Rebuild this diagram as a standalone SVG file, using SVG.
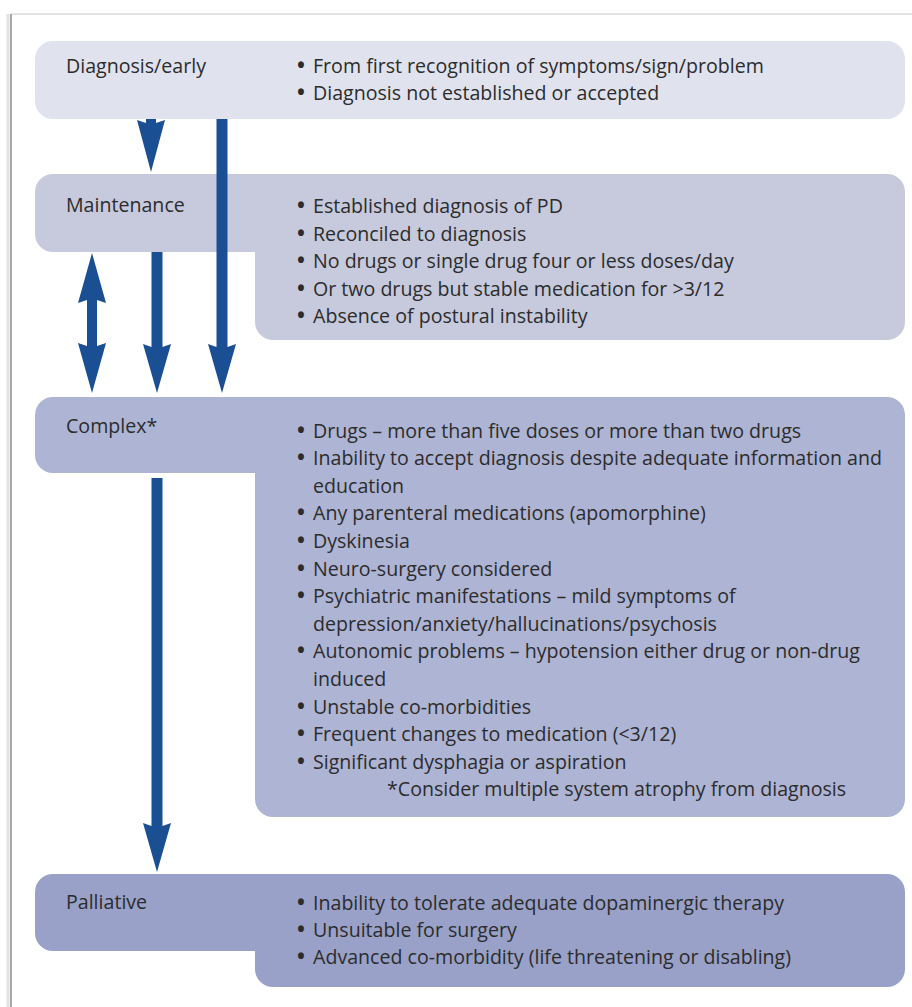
<svg xmlns="http://www.w3.org/2000/svg" width="912" height="1007" viewBox="0 0 912 1007">
<style>
text{font-family:"Open Sans","Noto Sans","Liberation Sans",sans-serif;font-size:19.6px;fill:#2c2c2c}
.bu{font-weight:700;font-size:21px}
.b1{fill:#e0e3ee}.b2{fill:#c6cadc}.b3{fill:#aeb4d4}.b4{fill:#99a1c8}
.arr{fill:#1b4f93}
</style>
<rect width="912" height="1007" fill="#ffffff"/>
<g id="frame">
<line x1="11" y1="14" x2="912" y2="14" stroke="#e4e4e4" stroke-width="2"/>
<line x1="8" y1="14" x2="8" y2="1007" stroke="#e2e2e2" stroke-width="3"/>
<line x1="11" y1="14" x2="11" y2="1007" stroke="#a8a8a8" stroke-width="2"/>
</g>
<g id="diagnosis">
<rect class="b1" x="35" y="41" width="870" height="78" rx="18"/>
<text x="66" y="73">Diagnosis/early</text>
<text><tspan class="bu" x="297" y="73">•</tspan><tspan x="313" y="73">From first recognition of symptoms/sign/problem</tspan><tspan class="bu" x="297" y="100">•</tspan><tspan x="313" y="100">Diagnosis not established or accepted</tspan></text>
</g>
<g id="maintenance">
<path class="b2" d="M53,174 H887 A18,18 0 0 1 905,192 V322 A18,18 0 0 1 887,340 H273 A18,18 0 0 1 255,322 V252 H53 A18,18 0 0 1 35,234 V192 A18,18 0 0 1 53,174 Z"/>
<text x="66" y="212">Maintenance</text>
<text><tspan class="bu" x="297" y="213">•</tspan><tspan x="313" y="213">Established diagnosis of PD</tspan><tspan class="bu" x="297" y="241">•</tspan><tspan x="313" y="241">Reconciled to diagnosis</tspan><tspan class="bu" x="297" y="268">•</tspan><tspan x="313" y="268">No drugs or single drug four or less doses/day</tspan><tspan class="bu" x="297" y="296">•</tspan><tspan x="313" y="296">Or two drugs but stable medication for &gt;3/12</tspan><tspan class="bu" x="297" y="323">•</tspan><tspan x="313" y="323">Absence of postural instability</tspan></text>
</g>
<g id="complex">
<path class="b3" d="M53,397 H887 A18,18 0 0 1 905,415 V799 A18,18 0 0 1 887,817 H273 A18,18 0 0 1 255,799 V473 H53 A18,18 0 0 1 35,455 V415 A18,18 0 0 1 53,397 Z"/>
<text x="66" y="433">Complex*</text>
<text><tspan class="bu" x="297" y="437.6">•</tspan><tspan x="313" y="437.6">Drugs – more than five doses or more than two drugs</tspan><tspan class="bu" x="297" y="465.2">•</tspan><tspan x="313" y="465.2">Inability to accept diagnosis despite adequate information and</tspan><tspan x="313" y="492.8">education</tspan><tspan class="bu" x="297" y="520.4">•</tspan><tspan x="313" y="520.4">Any parenteral medications (apomorphine)</tspan><tspan class="bu" x="297" y="548">•</tspan><tspan x="313" y="548">Dyskinesia</tspan><tspan class="bu" x="297" y="575.6">•</tspan><tspan x="313" y="575.6">Neuro-surgery considered</tspan><tspan class="bu" x="297" y="603.2">•</tspan><tspan x="313" y="603.2">Psychiatric manifestations – mild symptoms of</tspan><tspan x="313" y="630.8">depression/anxiety/hallucinations/psychosis</tspan><tspan class="bu" x="297" y="658.4">•</tspan><tspan x="313" y="658.4">Autonomic problems – hypotension either drug or non-drug</tspan><tspan x="313" y="686">induced</tspan><tspan class="bu" x="297" y="713.6">•</tspan><tspan x="313" y="713.6">Unstable co-morbidities</tspan><tspan class="bu" x="297" y="741.2">•</tspan><tspan x="313" y="741.2">Frequent changes to medication (&lt;3/12)</tspan><tspan class="bu" x="297" y="768.8">•</tspan><tspan x="313" y="768.8">Significant dysphagia or aspiration</tspan><tspan x="387" y="796.4">*Consider multiple system atrophy from diagnosis</tspan></text>
</g>
<g id="palliative">
<path class="b4" d="M53,874 H887 A18,18 0 0 1 905,892 V969 A18,18 0 0 1 887,987 H273 A18,18 0 0 1 255,969 V951 H53 A18,18 0 0 1 35,933 V892 A18,18 0 0 1 53,874 Z"/>
<text x="66" y="909">Palliative</text>
<text><tspan class="bu" x="297" y="910">•</tspan><tspan x="313" y="910">Inability to tolerate adequate dopaminergic therapy</tspan><tspan class="bu" x="297" y="937">•</tspan><tspan x="313" y="937">Unsuitable for surgery</tspan><tspan class="bu" x="297" y="964">•</tspan><tspan x="313" y="964">Advanced co-morbidity (life threatening or disabling)</tspan></text>
</g>
<g id="connectors" class="arr">
<path d="M146,119 V123 L137,120 L151,172 L165,120 L156,123 V119 Z"/>
<path d="M151.5,252 V347 L143,344 L157,393 L171,344 L162.5,347 V252 Z"/>
<path d="M216.5,119 V347 L208,344 L222,393 L236,344 L227.5,347 V119 Z"/>
<path d="M151.5,478 V826 L143,823 L157,872 L171,823 L162.5,826 V478 Z"/>
<path d="M87,300 V346 L78,343 L92,393 L106,343 L97,346 V300 L106,303 L92,253 L78,303 Z"/>
</g>
</svg>
